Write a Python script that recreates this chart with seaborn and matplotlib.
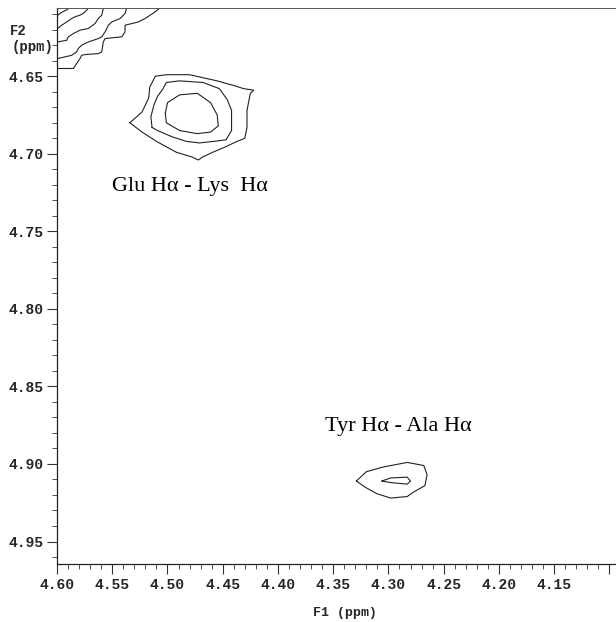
import numpy as np
import pandas as pd
import matplotlib
matplotlib.use("Agg")
import matplotlib.pyplot as plt
from matplotlib.ticker import MultipleLocator, FormatStrFormatter
import seaborn as sns

# contour traces (F1 ppm, F2 ppm)
# diagonal peak in the top-left corner, five levels
diag1_f1 = [4.5994, 4.5955, 4.5918, 4.5891]
diag1_f2 = [4.6106, 4.6087, 4.6074, 4.6061]
diag2_f1 = [4.5994, 4.5957, 4.5912, 4.5867, 4.5837, 4.5792, 4.5762, 4.5731, 4.5716]
diag2_f2 = [4.6192, 4.6171, 4.6150, 4.6128, 4.6117, 4.6106, 4.6095, 4.6074, 4.6059]
diag3_f1 = [4.5994, 4.5912, 4.5898, 4.5852, 4.5792, 4.5716, 4.5656, 4.5626, 4.5595, 4.5581]
diag3_f2 = [4.6279, 4.6268, 4.6246, 4.6225, 4.6203, 4.6192, 4.6160, 4.6128, 4.6106, 4.6063]
diag4_f1 = [4.5994, 4.5928, 4.5867, 4.5822, 4.5807, 4.5777, 4.5716, 4.5626, 4.5595,
            4.5565, 4.5535, 4.5505, 4.5429, 4.5384, 4.5369]
diag4_f2 = [4.6386, 4.6375, 4.6365, 4.6343, 4.6321, 4.6300, 4.6279, 4.6257, 4.6246,
            4.6214, 4.6171, 4.6150, 4.6128, 4.6095, 4.6059]
diag5_f1 = [4.5994, 4.5852, 4.5822, 4.5792, 4.5777, 4.5746, 4.5626, 4.5595, 4.5581,
            4.5565, 4.5414, 4.5384, 4.5384, 4.5264, 4.5203, 4.5112, 4.5067]
diag5_f2 = [4.6450, 4.6450, 4.6418, 4.6386, 4.6365, 4.6360, 4.6354, 4.6343, 4.6279,
            4.6257, 4.6246, 4.6214, 4.6171, 4.6150, 4.6128, 4.6085, 4.6059]

# Glu Ha - Lys Ha cross peak
glu_out_f1 = [4.534, 4.523, 4.517, 4.516, 4.511, 4.501, 4.480, 4.455, 4.440, 4.431, 4.422,
              4.425, 4.428, 4.428, 4.430, 4.437, 4.449, 4.459, 4.468, 4.472, 4.478, 4.492,
              4.510, 4.523, 4.534]
glu_out_f2 = [4.680, 4.673, 4.664, 4.657, 4.650, 4.649, 4.649, 4.653, 4.656, 4.658, 4.659,
              4.661, 4.672, 4.683, 4.690, 4.692, 4.696, 4.699, 4.702, 4.704, 4.702, 4.699,
              4.692, 4.686, 4.680]
glu_mid_f1 = [4.514, 4.515, 4.512, 4.509, 4.504, 4.501, 4.489, 4.468, 4.453, 4.446, 4.442,
              4.442, 4.442, 4.447, 4.458, 4.471, 4.483, 4.496, 4.509, 4.514]
glu_mid_f2 = [4.683, 4.676, 4.668, 4.663, 4.658, 4.654, 4.653, 4.654, 4.658, 4.665, 4.672,
              4.678, 4.685, 4.691, 4.692, 4.693, 4.692, 4.689, 4.685, 4.683]
glu_in_f1 = [4.502, 4.500, 4.489, 4.473, 4.461, 4.455, 4.454, 4.461, 4.473, 4.489, 4.501, 4.502]
glu_in_f2 = [4.674, 4.667, 4.662, 4.661, 4.667, 4.675, 4.682, 4.686, 4.687, 4.685, 4.680, 4.674]

# Tyr Ha - Ala Ha cross peak
tyr_out_f1 = [4.329, 4.320, 4.305, 4.283, 4.268, 4.265, 4.267, 4.277, 4.283, 4.298, 4.311,
              4.321, 4.329]
tyr_out_f2 = [4.911, 4.905, 4.902, 4.899, 4.901, 4.907, 4.914, 4.918, 4.921, 4.922, 4.919,
              4.915, 4.911]
tyr_in_f1 = [4.306, 4.298, 4.283, 4.280, 4.283, 4.298, 4.306]
tyr_in_f2 = [4.911, 4.909, 4.9085, 4.911, 4.913, 4.912, 4.911]

peak_labels = ["Glu H\u03b1 - Lys  H\u03b1", "Tyr H\u03b1 - Ala H\u03b1"]
label_f1 = [4.480, 4.291]
label_f2 = [4.721, 4.876]

f1_ticks = [4.60, 4.55, 4.50, 4.45, 4.40, 4.35, 4.30, 4.25, 4.20, 4.15, 4.10]
f1_ticklabels = ["4.60", "4.55", "4.50", "4.45", "4.40", "4.35", "4.30", "4.25",
                 "4.20", "4.15", ""]

traces = [
    (diag1_f1, diag1_f2), (diag2_f1, diag2_f2), (diag3_f1, diag3_f2),
    (diag4_f1, diag4_f2), (diag5_f1, diag5_f2),
    (glu_out_f1, glu_out_f2), (glu_mid_f1, glu_mid_f2), (glu_in_f1, glu_in_f2),
    (tyr_out_f1, tyr_out_f2), (tyr_in_f1, tyr_in_f2),
]

sns.set_theme(style="ticks")
plt.rcParams['font.family'] = ['Liberation Mono', 'DejaVu Sans Mono']

fig = plt.figure(figsize=(6.16, 6.22), dpi=100)
ax = fig.add_axes([57 / 616, 1 - 564 / 622, (616 - 57) / 616, 556 / 622])

for f1, f2 in traces:
    df = pd.DataFrame({"F1": f1, "F2": f2})
    sns.lineplot(data=df, x="F1", y="F2", sort=False, estimator=None,
                 color="#222222", linewidth=0.8, ax=ax)

for txt, x, y in zip(peak_labels, label_f1, label_f2):
    ax.text(x, y, txt, ha="center", va="center", fontsize=16,
            family=["Liberation Serif", "DejaVu Serif"], color="black")

ax.set_xlim(4.60, 4.094)
ax.set_ylim(4.9645, 4.606)

ax.xaxis.set_minor_locator(MultipleLocator(0.01))
ax.yaxis.set_major_locator(MultipleLocator(0.05))
ax.yaxis.set_minor_locator(MultipleLocator(0.01))
ax.yaxis.set_major_formatter(FormatStrFormatter("%.2f"))
ax.set_xticks(f1_ticks)
ax.set_xticklabels(f1_ticklabels)

ax.tick_params(axis="both", which="major", length=7, width=0.8, color="#333333",
               labelsize=10.5, pad=3)
ax.tick_params(axis="both", which="minor", length=3.5, width=0.6, color="#333333")
for lab in ax.get_xticklabels() + ax.get_yticklabels():
    lab.set_fontweight("bold")
ax.tick_params(axis="x", pad=3)

ax.set_xlabel("")
ax.set_ylabel("")
for side in ["left", "bottom"]:
    ax.spines[side].set_linewidth(0.9)
    ax.spines[side].set_color("#222222")
ax.spines["top"].set_visible(True)
ax.spines["top"].set_linewidth(0.7)
ax.spines["top"].set_color("#555555")
ax.spines["right"].set_visible(False)

fig.text(345 / 616, 1 - 613 / 622, "F1 (ppm)", ha="center", va="center",
         fontsize=9.5, fontweight="bold")
fig.text(10 / 616, 1 - 31 / 622, "F2", ha="left", va="center",
         fontsize=10, fontweight="bold")
fig.text(12 / 616, 1 - 47 / 622, "(ppm)", ha="left", va="center",
         fontsize=10, fontweight="bold")

fig.savefig("out.png", dpi=100)
